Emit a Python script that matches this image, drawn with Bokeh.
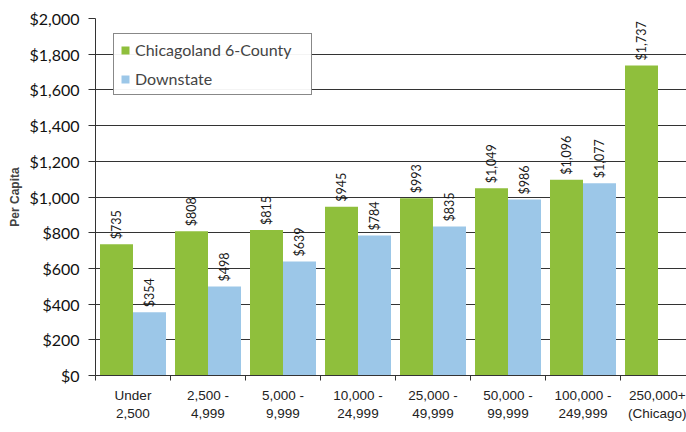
from bokeh.plotting import figure
from bokeh.models import ColumnDataSource, FixedTicker, Legend, LegendItem, NumeralTickFormatter, Range1d
from bokeh.core.properties import value
from bokeh.embed import file_html
from bokeh.resources import INLINE

categories = ["Under\n2,500", "2,500 -\n4,999", "5,000 -\n9,999", "10,000 -\n24,999",
              "25,000 -\n49,999", "50,000 -\n99,999", "100,000 -\n249,999", "250,000+\n(Chicago)"]
chicagoland = [735, 808, 815, 945, 993, 1049, 1096, 1737]
downstate = [354, 498, 639, 784, 835, 986, 1077]
y_ticks = [0, 200, 400, 600, 800, 1000, 1200, 1400, 1600, 1800, 2000]

GREEN = "#8FBF3C"
BLUE = "#9CC7E8"

cx = [i + 0.5 for i in range(len(categories))]
g_x = [i + 0.28 for i in range(len(chicagoland))]
b_x = [i + 0.72 for i in range(len(downstate))]

src_g = ColumnDataSource(dict(x=g_x, top=chicagoland, lab=["${:,}".format(v) for v in chicagoland]))
src_b = ColumnDataSource(dict(x=b_x, top=downstate, lab=["${:,}".format(v) for v in downstate]))

p = figure(frame_width=591, frame_height=357, output_backend="svg", toolbar_location=None,
           x_range=Range1d(0, 7.88), y_range=Range1d(0, 2000),
           min_border_left=95, min_border_top=18, min_border_bottom=57, min_border_right=0)
p.outline_line_color = None
p.background_fill_color = "white"

rg = p.vbar(x="x", top="top", width=0.44, bottom=0, source=src_g, fill_color=GREEN, line_color=None)
rb = p.vbar(x="x", top="top", width=0.44, bottom=0, source=src_b, fill_color=BLUE, line_color=None)

for src in (src_g, src_b):
    p.text(x="x", y="top", text="lab", source=src, angle=1.5708, text_align="left",
           text_baseline="middle", y_offset=-5, text_font=value("Lato"),
           text_font_size="12.5px", text_color="#1a1a1a")

# axes
p.yaxis.ticker = FixedTicker(ticks=y_ticks)
p.yaxis.formatter = NumeralTickFormatter(format="$0,0")
p.yaxis.major_label_text_font = "Lato"
p.yaxis.major_label_text_font_size = "16px"
p.yaxis.major_label_text_color = "#111111"
p.yaxis.major_tick_out = 7
p.yaxis.major_tick_in = 0
p.yaxis.minor_tick_line_color = None
p.yaxis.axis_line_color = "#333333"
p.yaxis.major_tick_line_color = "#333333"
p.yaxis.major_label_standoff = 9
p.yaxis.axis_label = "Per Capita"
p.yaxis.axis_label_text_font = "Liberation Sans"
p.yaxis.axis_label_text_font_style = "bold"
p.yaxis.axis_label_text_font_size = "12px"
p.yaxis.axis_label_standoff = 4

p.xaxis.ticker = FixedTicker(ticks=cx, minor_ticks=[float(i) for i in range(9)])
p.xaxis.major_label_overrides = {c: lab for c, lab in zip(cx, categories)}
p.xaxis.major_tick_line_color = None
p.xaxis.minor_tick_out = 5
p.xaxis.minor_tick_in = 0
p.xaxis.minor_tick_line_color = "#333333"
p.xaxis.axis_line_color = "#333333"
p.xaxis.major_label_text_font = "Liberation Sans"
p.xaxis.major_label_text_font_size = "13.5px"
p.xaxis.major_label_text_color = "#222222"
p.xaxis.major_label_standoff = 6

p.xgrid.grid_line_color = None
p.ygrid.ticker = FixedTicker(ticks=y_ticks)
p.ygrid.grid_line_color = "#333333"
p.ygrid.grid_line_width = 1

legend = Legend(items=[LegendItem(label="Chicagoland 6-County", renderers=[rg]),
                       LegendItem(label="Downstate", renderers=[rb])],
                location=(18, 280))
legend.border_line_color = "#111111"
legend.border_line_width = 1.5
legend.label_text_font = "Lato"
legend.label_text_font_size = "16px"
legend.glyph_width = 10
legend.glyph_height = 10
legend.label_height = 18
legend.label_width = 170
legend.spacing = 10
legend.padding = 6
legend.margin = 0
legend.label_standoff = 5
p.add_layout(legend, "center")

open("out.html", "w").write(file_html(p, INLINE))
